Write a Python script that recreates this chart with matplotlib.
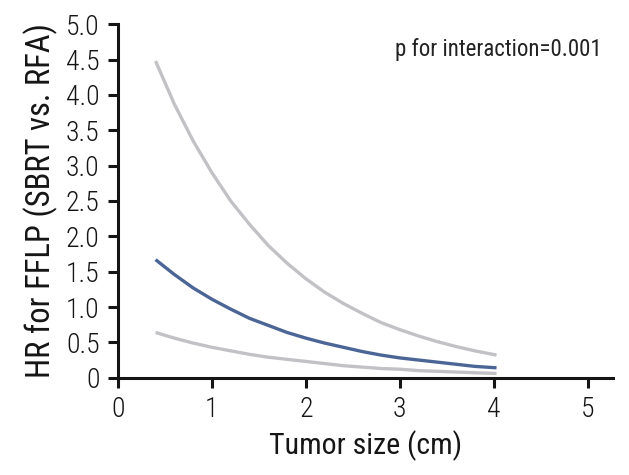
import matplotlib
matplotlib.use("Agg")
import matplotlib.pyplot as plt

# Tumor size (cm) and hazard ratio estimates
size_cm = [0.4, 0.6, 0.8, 1.0, 1.2, 1.4, 1.6, 1.8, 2.0, 2.2, 2.4, 2.6, 2.8, 3.0, 3.2, 3.4, 3.6, 3.8, 4.03]
hr_upper = [4.48, 3.87, 3.35, 2.90, 2.50, 2.17, 1.87, 1.62, 1.40, 1.21, 1.05, 0.91, 0.78, 0.68,
            0.59, 0.51, 0.44, 0.38, 0.32]
hr_mid = [1.67, 1.46, 1.27, 1.11, 0.97, 0.84, 0.74, 0.64, 0.56, 0.49, 0.43, 0.37, 0.32, 0.28,
          0.25, 0.22, 0.19, 0.16, 0.14]
hr_lower = [0.64, 0.56, 0.49, 0.43, 0.38, 0.33, 0.29, 0.26, 0.23, 0.20, 0.17, 0.15, 0.13, 0.12,
            0.10, 0.09, 0.08, 0.07, 0.06]

x_ticks = [0, 1, 2, 3, 4, 5]
y_ticks = [0, 0.5, 1.0, 1.5, 2.0, 2.5, 3.0, 3.5, 4.0, 4.5, 5.0]
y_tick_labels = ["0", "0.5", "1.0", "1.5", "2.0", "2.5", "3.0", "3.5", "4.0", "4.5", "5.0"]

GRAY = "#c2c2c6"
BLUE = "#4b6597"
INK = "#151515"

plt.rcParams["font.family"] = ["Roboto Condensed", "DejaVu Sans"]

fig = plt.figure(figsize=(6.29, 4.75), dpi=100)
ax = fig.add_axes([118 / 629, 1 - 377.7 / 475, (613 - 118) / 629, (377.7 - 24.3) / 475])

ax.plot(size_cm, hr_upper, color=GRAY, lw=2.4, solid_capstyle="butt", solid_joinstyle="round")
ax.plot(size_cm, hr_lower, color=GRAY, lw=2.4, solid_capstyle="butt", solid_joinstyle="round")
ax.plot(size_cm, hr_mid, color=BLUE, lw=2.4, solid_capstyle="butt", solid_joinstyle="round")

ax.set_xlim(0, 5.27)
ax.set_ylim(0, 5.0)
ax.set_xticks(x_ticks)
ax.set_yticks(y_ticks)
ax.set_yticklabels(y_tick_labels)

for side in ("top", "right"):
    ax.spines[side].set_visible(False)
for side in ("left", "bottom"):
    ax.spines[side].set_linewidth(2.2)
    ax.spines[side].set_color(INK)
ax.tick_params(axis="both", direction="out", length=7.2, width=2.2, color=INK,
               labelsize=20, labelcolor=INK, pad=6)
for label in ax.get_xticklabels() + ax.get_yticklabels():
    label.set_fontweight("light")

ax.set_xlabel("Tumor size (cm)", fontsize=21.5, color=INK, labelpad=5)
ax.set_ylabel("HR for FFLP (SBRT vs. RFA)", fontsize=23.5, color=INK, labelpad=6)

ax.text(0.978, 0.93, "p for interaction=0.001", transform=ax.transAxes,
        ha="right", va="center", fontsize=16.5, color="#222222")

fig.savefig("out.png", dpi=100)
